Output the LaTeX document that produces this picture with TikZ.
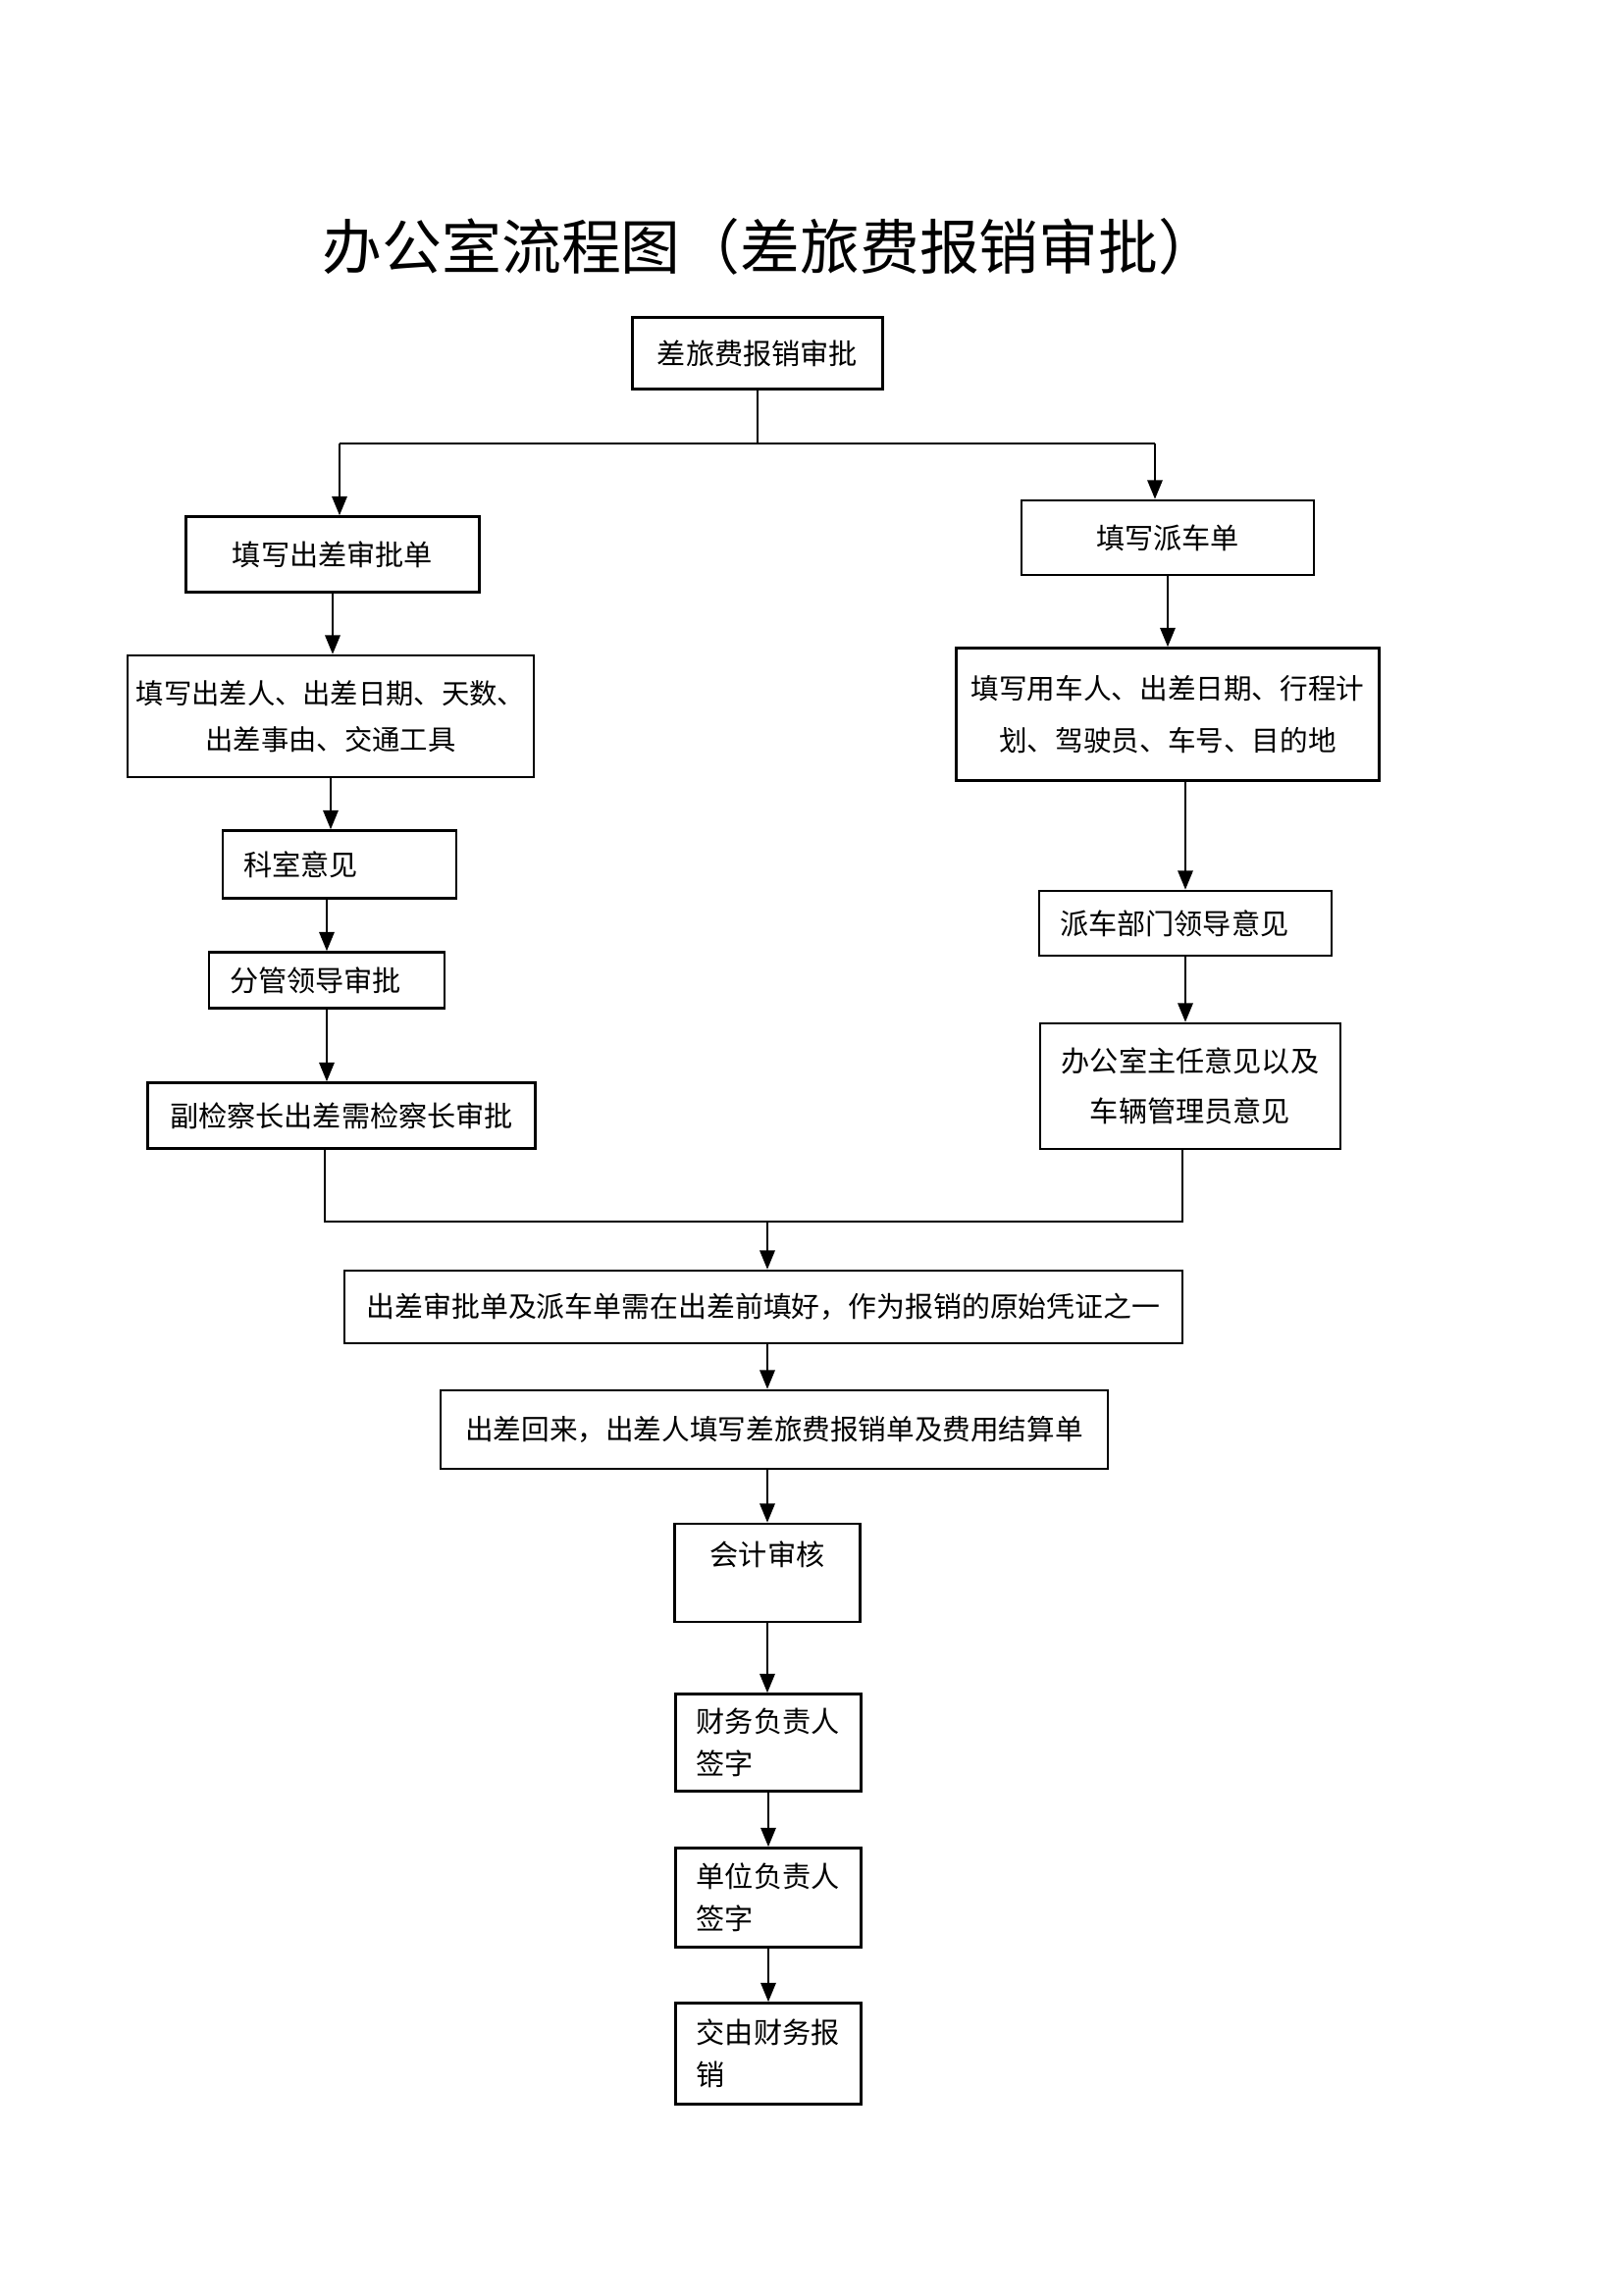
\documentclass[tikz,border=0pt]{standalone}
\usepackage{fontspec}
\newfontfamily\cjk{Noto Sans CJK SC}
\usetikzlibrary{arrows.meta}

\begin{document}
\begin{tikzpicture}[x=0.36pt,y=-0.36pt,
        box/.style={draw,line width=0.9pt,inner sep=0pt,align=center,font=\cjk\fontsize{10.5}{17.5}\selectfont},
        lbox/.style={box,align=left,inner xsep=7.6pt},
        ln/.style={line width=0.9pt},
        arr/.style={ln,-{Triangle[length=7pt,width=5.5pt]}}]
        \useasboundingbox (0,0) rectangle (1654,2338);

        \node[font=\cjk\fontsize{21.9}{25}\selectfont] (title) at (785,251) {办公室流程图（差旅费报销审批）};

        \node[box,minimum width=91.8pt,minimum height=26.3pt] (b1) at (772,360) {差旅费报销审批};
        \node[box,minimum width=107.6pt,minimum height=27.7pt] (b2) at (339,565) {填写出差审批单};
        \node[box,minimum width=107.3pt,minimum height=27.4pt] (b3) at (1190,548) {填写派车单};
        \node[box,minimum width=149pt,minimum height=44.6pt,font=\cjk\fontsize{10.2}{17}\selectfont] (b4) at (337,730) {填写出差人、出差日期、天数、\\出差事由、交通工具};
        \node[box,minimum width=155.2pt,minimum height=48.6pt,font=\cjk\fontsize{10.3}{19}\selectfont] (b5) at (1190,728) {填写用车人、出差日期、行程计\\划、驾驶员、车号、目的地};
        \node[lbox,text width=70.5pt,minimum height=24.8pt] (b6) at (346,881) {科室意见};
        \node[lbox,text width=71.2pt,minimum height=20.5pt] (b7) at (333,999) {分管领导审批};
        \node[box,minimum width=142.2pt,minimum height=24.1pt] (b8) at (348,1137) {副检察长出差需检察长审批};
        \node[lbox,text width=92.1pt,minimum height=23.8pt] (b9) at (1208,941) {派车部门领导意见};
        \node[box,minimum width=110.2pt,minimum height=46.1pt,font=\cjk\fontsize{10.5}{18.5}\selectfont] (b10) at (1213,1107) {办公室主任意见以及\\车辆管理员意见};
        \node[box,minimum width=307.4pt,minimum height=26.6pt,font=\cjk\fontsize{10.4}{14}\selectfont] (b11) at (778,1332) {出差审批单及派车单需在出差前填好，作为报销的原始凭证之一};
        \node[box,minimum width=244.8pt,minimum height=28.8pt,font=\cjk\fontsize{10.3}{14}\selectfont] (b12) at (789,1457) {出差回来，出差人填写差旅费报销单及费用结算单};
        \node[box,minimum width=68pt,minimum height=36pt,text depth=14pt] (b13) at (782,1603) {会计审核};
        \node[lbox,text width=52.8pt,minimum height=35.6pt,font=\cjk\fontsize{10.5}{15.5}\selectfont] (b14) at (783,1776) {财务负责人\\签字};
        \node[lbox,text width=52.8pt,minimum height=36.4pt,font=\cjk\fontsize{10.5}{15.5}\selectfont] (b15) at (783,1934) {单位负责人\\签字};
        \node[lbox,text width=52.8pt,minimum height=37.1pt,font=\cjk\fontsize{10.5}{15.5}\selectfont] (b16) at (783,2093) {交由财务报\\销};

        \coordinate (jl) at (346,452);
        \coordinate (jr) at (1177,452);
        \draw[ln] (b1.south) -- (b1.south |- jl);
        \draw[ln] (jl) -- (jr);
        \draw[arr] (jl) -- (jl |- b2.north);
        \draw[arr] (jr) -- (jr |- b3.north);

        \draw[arr] (b2.south) -- (b2.south |- b4.north);
        \draw[arr] (b4.south) -- (b4.south |- b6.north);
        \draw[arr] (b7.north |- b6.south) -- (b7.north);
        \draw[arr] (b7.south) -- (b7.south |- b8.north);

        \draw[arr] (b3.south) -- (b3.south |- b5.north);
        \draw[arr] (b9.north |- b5.south) -- (b9.north);
        \draw[arr] (b9.south) -- (b9.south |- b10.north);

        \coordinate (ml) at (331,1245);
        \coordinate (mr) at (1205,1245);
        \draw[ln] (ml |- b8.south) -- (ml) -- (mr) -- (mr |- b10.south);
        \draw[arr] (b13.north |- ml) -- (b13.north |- b11.north);

        \draw[arr] (b13.north |- b11.south) -- (b13.north |- b12.north);
        \draw[arr] (b13.north |- b12.south) -- (b13.north);
        \draw[arr] (b13.south) -- (b13.south |- b14.north);
        \draw[arr] (b14.south) -- (b14.south |- b15.north);
        \draw[arr] (b15.south) -- (b15.south |- b16.north);

    \end{tikzpicture}
\end{document}
